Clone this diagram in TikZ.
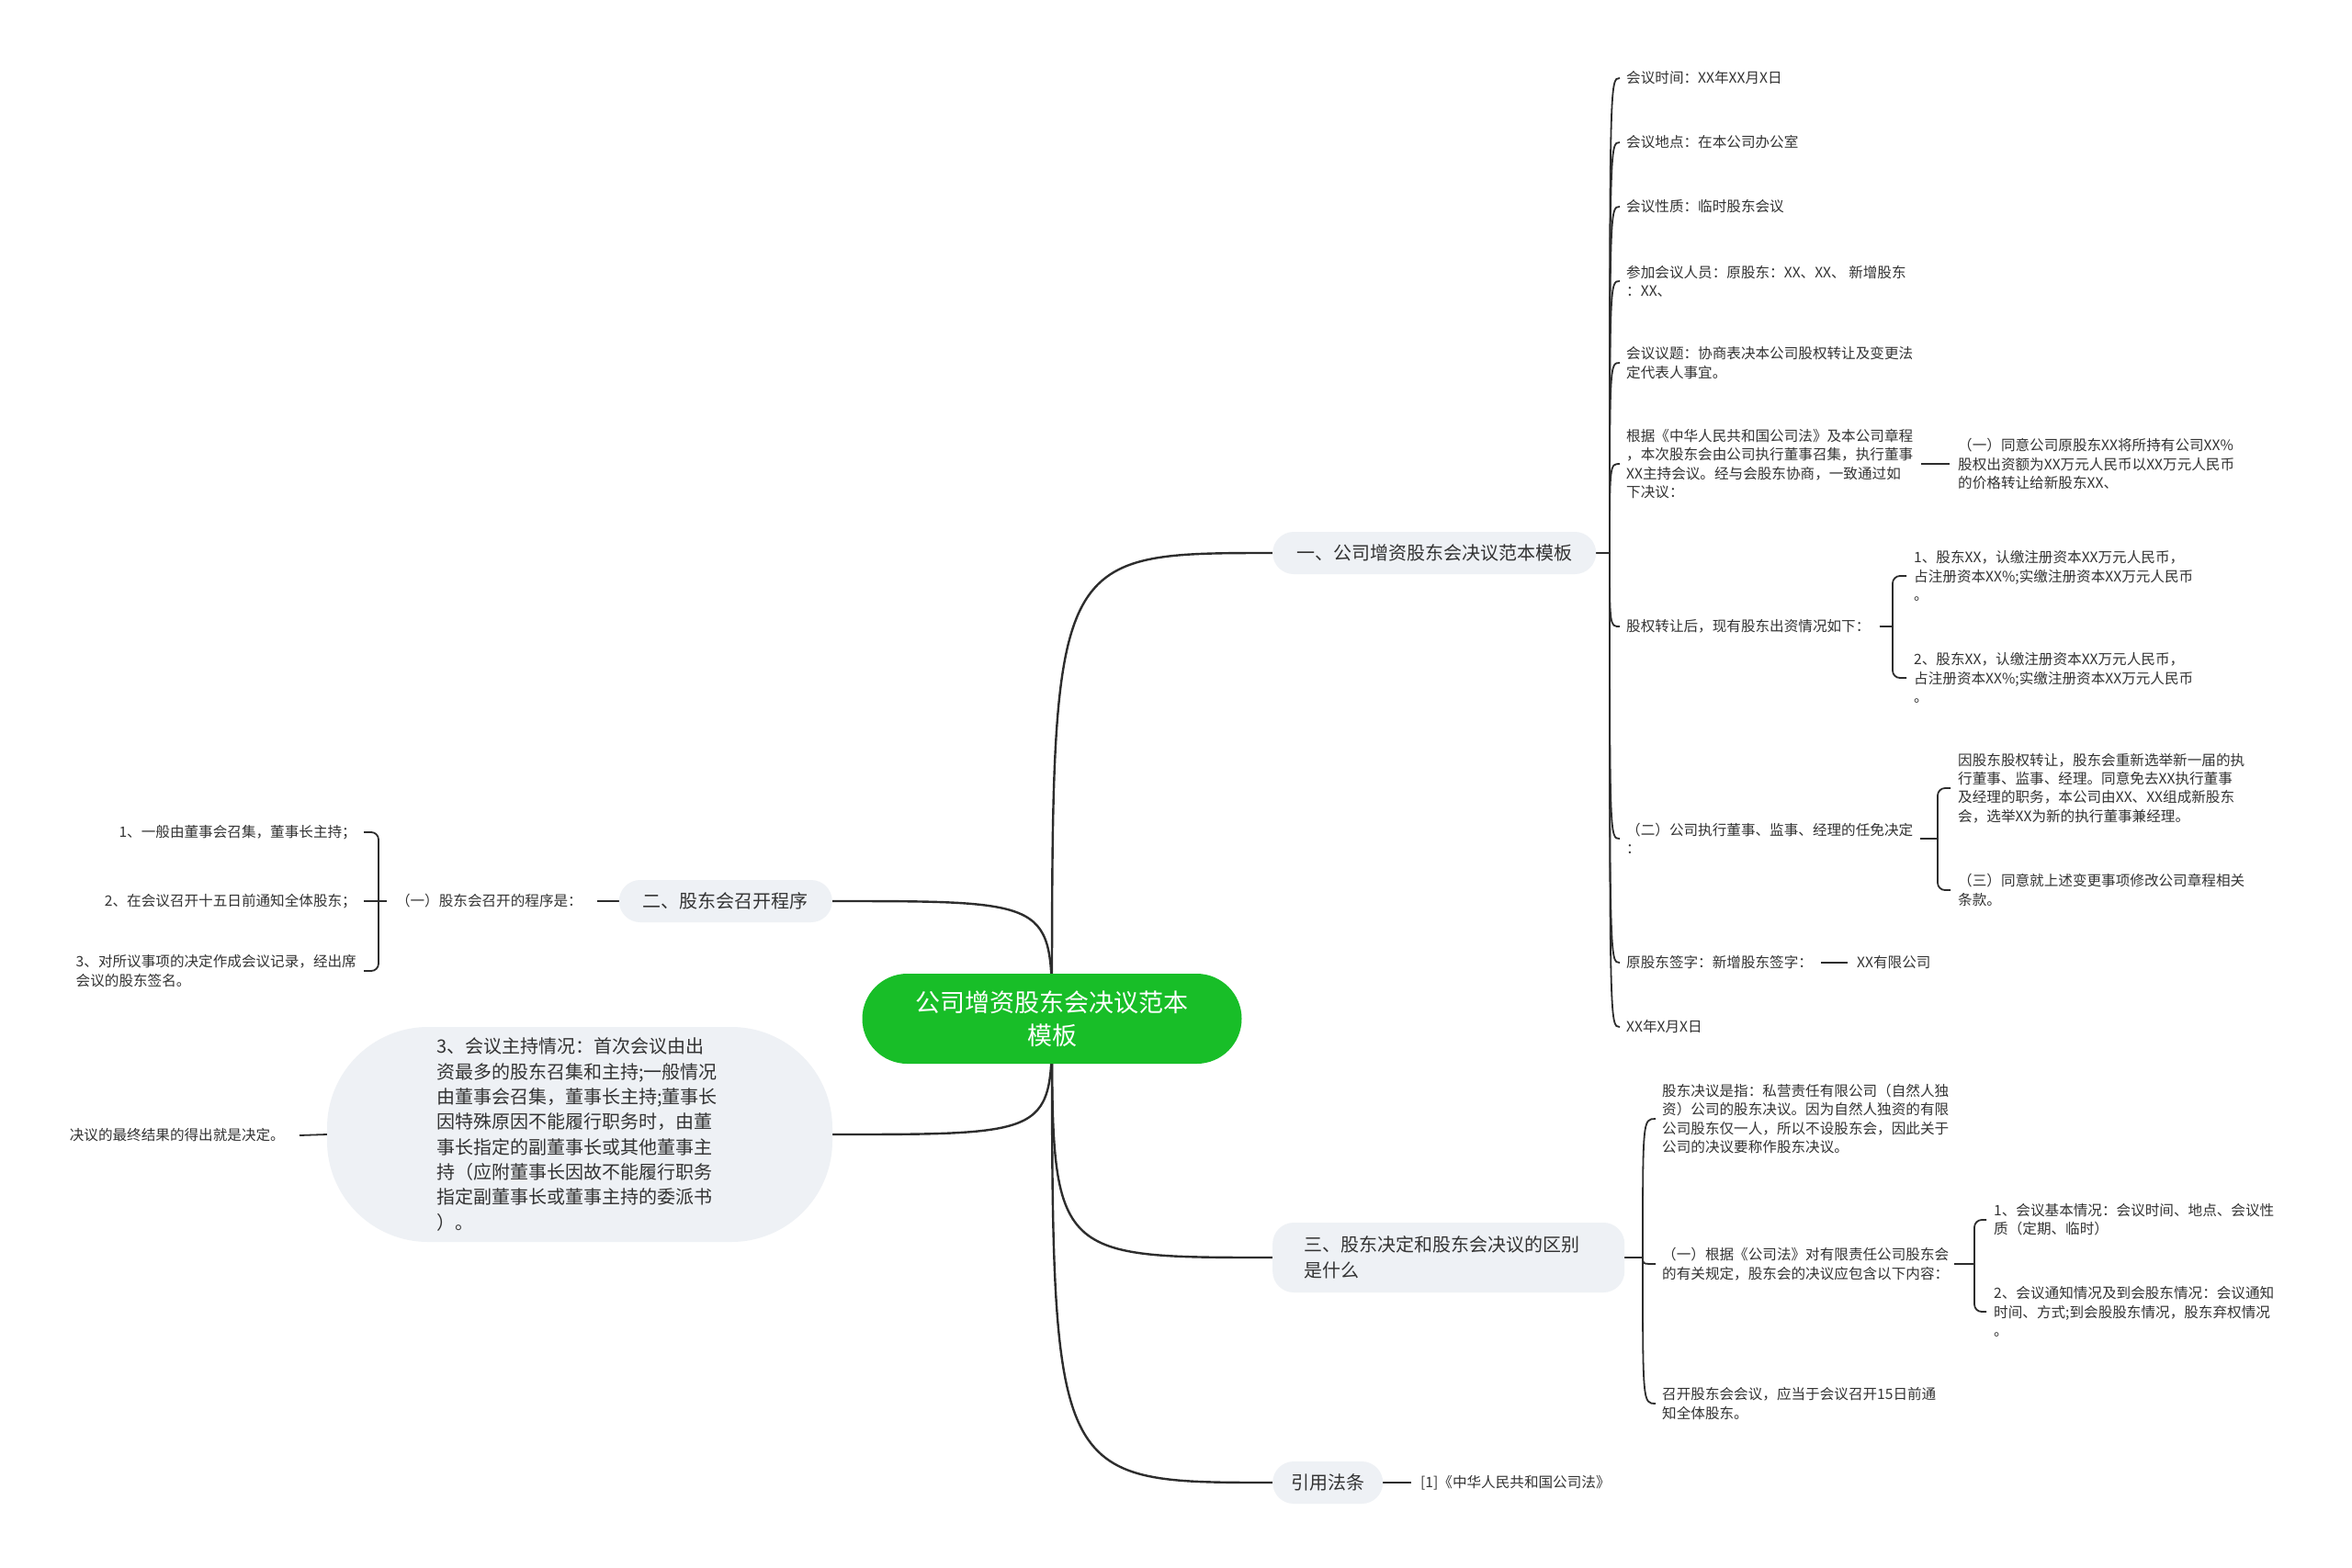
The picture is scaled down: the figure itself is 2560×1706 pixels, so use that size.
\documentclass[tikz,border=0pt]{standalone}
\usepackage{fontspec}
\setmainfont{Noto Sans CJK SC}
\usetikzlibrary{calc}
\pgfdeclarelayer{back}
\pgfdeclarelayer{bg}
\pgfsetlayers{back,bg,main}
\definecolor{ink}{RGB}{51,51,51}
\definecolor{lnk}{RGB}{45,45,45}
\definecolor{mgreen}{RGB}{24,190,40}
\definecolor{pale}{RGB}{238,241,245}
\begin{document}
\begin{tikzpicture}[x=1pt,y=-1pt,
  txt/.style={inner sep=0pt, text=ink, align=left, font=\fontsize{15.6}{20.3}\selectfont},
  centre/.style={fill=mgreen, text=white, rounded corners=49pt, minimum width=413pt, minimum height=98pt, inner sep=0pt, align=center, font=\fontsize{27}{36}\selectfont},
  topic/.style={fill=pale, text=ink, rounded corners=23pt, minimum height=46pt, inner xsep=26pt, inner ysep=0pt, align=left, font=\fontsize{20}{28}\selectfont},
  bigbox/.style={fill=pale, text=ink, rounded corners=110pt, minimum width=550pt, minimum height=234pt, inner sep=0pt, text width=312pt, align=left, font=\fontsize{20}{27.3}\selectfont},
  mainln/.style={draw=lnk, line width=2.4pt},
  ln/.style={draw=lnk, line width=1.8pt},
  brk/.style={draw=lnk, line width=1.8pt, rounded corners=8pt}]
\begin{pgfonlayer}{back}
\fill[white] (0,0) rectangle (2560,1706);
\end{pgfonlayer}
\useasboundingbox (0,0) rectangle (2560,1706);

% centre
\node[centre] (c) at (1145,1109) {公司增资股东会决议范本\\模板};

% branch 1
\node[topic, anchor=west] (b1) at (1385,602) {一、公司增资股东会决议范本模板};
\coordinate (h1) at (1752,602);
\node[txt, anchor=west] (k1) at (1770,85) {会议时间：XX年XX月X日};
\node[txt, anchor=west] (k2) at (1770,155) {会议地点：在本公司办公室};
\node[txt, anchor=west] (k3) at (1770,225) {会议性质：临时股东会议};
\node[txt, anchor=west] (k4) at (1770,306) {参加会议人员：原股东：XX、XX、 新增股东\\：XX、};
\node[txt, anchor=west] (k5) at (1770,395) {会议议题：协商表决本公司股权转让及变更法\\定代表人事宜。};
\node[txt, anchor=west] (k6) at (1770,505) {根据《中华人民共和国公司法》及本公司章程\\，本次股东会由公司执行董事召集，执行董事\\XX主持会议。经与会股东协商，一致通过如\\下决议：};
\node[txt, anchor=west] (k6a) at (2131,505) {（一）同意公司原股东XX将所持有公司XX\%\\股权出资额为XX万元人民币以XX万元人民币\\的价格转让给新股东XX、};
\node[txt, anchor=west] (k7) at (1770,682) {股权转让后，现有股东出资情况如下：};
\node[txt, anchor=west] (k7a) at (2083,627) {1、股东XX，认缴注册资本XX万元人民币，\\占注册资本XX\%;实缴注册资本XX万元人民币\\。};
\node[txt, anchor=west] (k7b) at (2083,738) {2、股东XX，认缴注册资本XX万元人民币，\\占注册资本XX\%;实缴注册资本XX万元人民币\\。};
\node[txt, anchor=west] (k8) at (1770,913) {（二）公司执行董事、监事、经理的任免决定\\：};
\node[txt, anchor=west] (k8a) at (2131,858) {因股东股权转让，股东会重新选举新一届的执\\行董事、监事、经理。同意免去XX执行董事\\及经理的职务，本公司由XX、XX组成新股东\\会，选举XX为新的执行董事兼经理。};
\node[txt, anchor=west] (k8b) at (2131,969) {（三）同意就上述变更事项修改公司章程相关\\条款。};
\node[txt, anchor=west] (k9) at (1770,1048) {原股东签字：新增股东签字：};
\node[txt, anchor=west] (k9a) at (2021,1048) {XX有限公司};
\node[txt, anchor=west] (k10) at (1770,1118) {XX年X月X日};
\coordinate (h7) at (2060,682);
\coordinate (h8) at (2109,913);

% branch 2
\node[topic, anchor=east] (b2) at (906,981) {二、股东会召开程序};
\node[txt, anchor=east] (p2) at (634,981) {（一）股东会召开的程序是：};
\coordinate (h2) at (412,981);
\node[txt, anchor=east] (q1) at (388,906) {1、一般由董事会召集，董事长主持；};
\node[txt, anchor=east] (q2) at (388,981) {2、在会议召开十五日前通知全体股东；};
\node[txt, anchor=east] (q3) at (388,1057) {3、对所议事项的决定作成会议记录，经出席\\会议的股东签名。};

% branch 3
\node[bigbox] (b3) at (631,1235) {3、会议主持情况：首次会议由出\\资最多的股东召集和主持;一般情况\\由董事会召集，董事长主持;董事长\\因特殊原因不能履行职务时，由董\\事长指定的副董事长或其他董事主\\持（应附董事长因故不能履行职务\\指定副董事长或董事主持的委派书\\）。};
\node[txt, anchor=east] (r3) at (310,1236) {决议的最终结果的得出就是决定。};

% branch 4
\node[topic, anchor=west, minimum height=76pt, inner xsep=34pt, text width=315pt] (b4) at (1385,1369) {三、股东决定和股东会决议的区别\\是什么};
\coordinate (h4) at (1788,1369);
\node[txt, anchor=west] (m1) at (1809,1218) {股东决议是指：私营责任有限公司（自然人独\\资）公司的股东决议。因为自然人独资的有限\\公司股东仅一人，所以不设股东会，因此关于\\公司的决议要称作股东决议。};
\node[txt, anchor=west] (m2) at (1809,1376) {（一）根据《公司法》对有限责任公司股东会\\的有关规定，股东会的决议应包含以下内容：};
\node[txt, anchor=west] (m3) at (1809,1528) {召开股东会会议，应当于会议召开15日前通\\知全体股东。};
\coordinate (h5) at (2149,1376);
\node[txt, anchor=west] (n1) at (2170,1328) {1、会议基本情况：会议时间、地点、会议性\\质（定期、临时）};
\node[txt, anchor=west] (n2) at (2170,1428) {2、会议通知情况及到会股东情况：会议通知\\时间、方式;到会股股东情况，股东弃权情况\\。};

% branch 5
\node[topic, anchor=west, inner xsep=20pt] (b5) at (1385,1614) {引用法条};
\node[txt, anchor=west] (s5) at (1546,1614) {[1]《中华人民共和国公司法》};

\begin{pgfonlayer}{bg}
% main curves
\draw[mainln] (c.center) .. controls (c.center |- b1.west) .. (b1.west);
\draw[mainln] (c.center) .. controls (c.center |- b2.east) .. (b2.east);
\draw[mainln] (c.center) .. controls (c.center |- b3.east) .. (b3.east);
\draw[mainln] (c.center) .. controls (c.center |- b4.west) .. (b4.west);
\draw[mainln] (c.center) .. controls (c.center |- b5.west) .. (b5.west);

% branch 1 bracket
\draw[ln] (b1.east) -- (h1);
\foreach \k in {k1,k2,k3,k4,k5,k6,k7,k8,k9,k10}{
  \draw[ln] (h1) .. controls (h1 |- \k.west) .. ([xshift=-7pt]\k.west);
}
\draw[ln] ([xshift=9pt]k6.east) -- ([xshift=-9pt]k6a.west);
\draw[ln] ([xshift=10pt]k7.east) -- (h7);
\draw[brk] (h7) |- ([xshift=-8pt]k7a.west);
\draw[brk] (h7) |- ([xshift=-8pt]k7b.west);
\draw[ln] ([xshift=8pt]k8.east) -- (h8);
\draw[brk] (h8) |- ([xshift=-8pt]k8a.west);
\draw[brk] (h8) |- ([xshift=-8pt]k8b.west);
\draw[ln] ([xshift=9pt]k9.east) -- ([xshift=-10pt]k9a.west);

% branch 2
\draw[ln] (b2.west) -- ([xshift=16pt]p2.east);
\draw[ln] ([xshift=-10pt]p2.west) -- (h2);
\draw[brk] (h2) |- ([xshift=8pt]q1.east);
\draw[ln] (h2) -- ([xshift=8pt]q2.east);
\draw[brk] (h2) |- ([xshift=8pt]q3.east);

% branch 3
\draw[ln] (b3.west) -- ([xshift=16pt]r3.east);

% branch 4
\draw[ln] (b4.east) -- (h4);
\foreach \k in {m1,m2,m3}{
  \draw[ln] (h4) .. controls (h4 |- \k.west) .. ([xshift=-7pt]\k.west);
}
\draw[ln] ([xshift=6pt]m2.east) -- (h5);
\draw[brk] (h5) |- ([xshift=-8pt]n1.west);
\draw[brk] (h5) |- ([xshift=-8pt]n2.west);

% branch 5
\draw[ln] (b5.east) -- ([xshift=-10pt]s5.west);
\end{pgfonlayer}
\end{tikzpicture}
\end{document}
